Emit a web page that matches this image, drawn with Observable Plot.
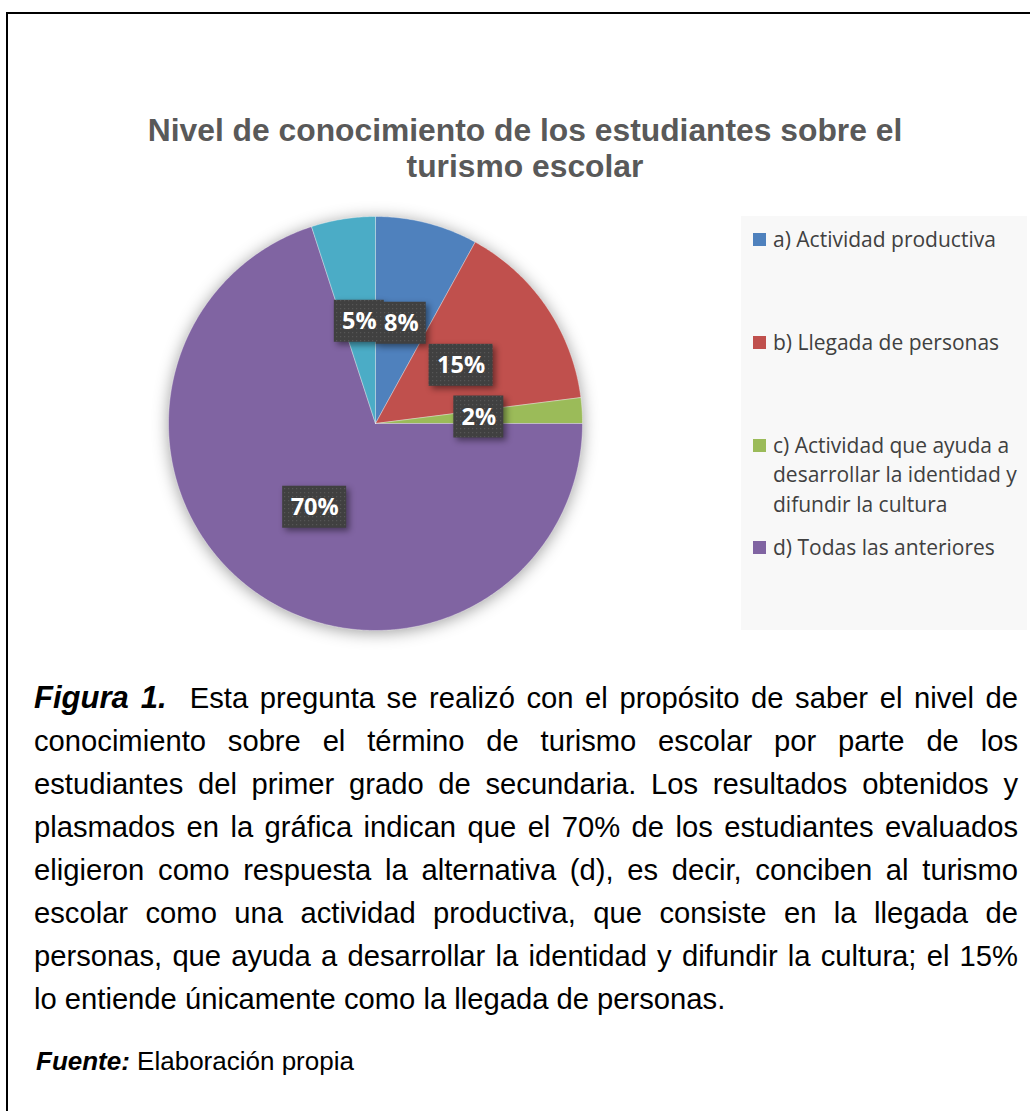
<!DOCTYPE html>
<html><head><meta charset="utf-8">
<script src="https://cdn.jsdelivr.net/npm/d3@7"></script>
<script src="https://cdn.jsdelivr.net/npm/@observablehq/plot@0.6"></script>
<style>
html,body{margin:0;padding:0;background:#fff;}
#page{position:relative;width:1030px;height:1111px;overflow:hidden;font-family:"Liberation Sans",Arial,sans-serif;}
#frame{position:absolute;left:6px;top:12px;width:1100px;height:1200px;border-top:2px solid #000;border-left:2px solid #000;}
#title{position:absolute;left:20px;width:1010px;top:112px;text-align:center;font-weight:bold;font-size:31.8px;line-height:36px;color:#595959;}
#chart{position:absolute;left:135px;top:183px;width:480px;height:480px;}
#legend{position:absolute;left:741px;top:216px;width:286px;height:414px;background:#f8f8f8;}
.lg{position:absolute;left:32px;width:250px;font-family:"Open Sans",sans-serif;font-size:21px;line-height:29.5px;color:#404040;}
.sw{position:absolute;left:-20px;top:8px;width:13px;height:13px;}
#caption{position:absolute;left:34px;width:984px;top:676px;font-size:29.2px;line-height:43px;color:#000;}
.ln{text-align:justify;text-align-last:justify;}
.ln.last{text-align:left;text-align-last:left;}
.fig{font-weight:bold;font-style:italic;font-size:31px;}
#fuente{position:absolute;left:36px;top:1046px;font-size:26px;line-height:30px;color:#000;}
#fuente b{font-style:italic;}
</style>
</head><body>
<svg width="0" height="0" style="position:absolute">
  <defs>
    <pattern id="dots" width="4" height="4" patternUnits="userSpaceOnUse">
      <rect width="4" height="4" fill="#404040"></rect>
      <rect x="1" y="1" width="1.2" height="1.2" fill="#565656"></rect>
    </pattern>
  </defs>
</svg>
<div id="page">
  <div id="frame"></div>
  <div id="title">Nivel de conocimiento de los estudiantes sobre el<br>turismo escolar</div>
  <div id="chart"></div>
  <div id="legend"></div>
  <div id="caption">
    <div class="ln"><span class="fig">Figura 1.</span>&nbsp; Esta pregunta se realizó con el propósito de saber el nivel de</div>
    <div class="ln">conocimiento sobre el término de turismo escolar por parte de los</div>
    <div class="ln">estudiantes del primer grado de secundaria. Los resultados obtenidos y</div>
    <div class="ln">plasmados en la gráfica indican que el 70% de los estudiantes evaluados</div>
    <div class="ln">eligieron como respuesta la alternativa (d), es decir, conciben al turismo</div>
    <div class="ln">escolar como una actividad productiva, que consiste en la llegada de</div>
    <div class="ln">personas, que ayuda a desarrollar la identidad y difundir la cultura; el 15%</div>
    <div class="ln last">lo entiende únicamente como la llegada de personas.</div>
  </div>
  <div id="fuente"><b>Fuente:</b> Elaboración propia</div>
</div>
<script>
// ---- data ----
const categories = [
  "a) Actividad productiva",
  "b) Llegada de personas",
  "c) Actividad que ayuda a desarrollar la identidad y difundir la cultura",
  "d) Todas las anteriores",
  "e)"
];
const values = [8, 15, 2, 70, 5];
const valueLabels = ["8%", "15%", "2%", "70%", "5%"];
const colors = ["#4F81BD", "#C0504D", "#9BBB59", "#8064A2", "#4BACC6"];
const shownInLegend = [true, true, true, true, false];

// ---- geometry in data units (radius = 1) ----
const R = 207;              // pixel radius
const half = 240;           // half of svg size
const k = half / R;
const pie = d3.pie().sort(null).value(d => d)(values);
const slices = [];
pie.forEach((p, i) => {
  const n = Math.max(2, Math.ceil((p.endAngle - p.startAngle) / 0.01));
  slices.push({cat: categories[i], x: 0, y: 0});
  for (let j = 0; j <= n; j++) {
    const t = p.startAngle + (p.endAngle - p.startAngle) * j / n;
    slices.push({cat: categories[i], x: Math.sin(t), y: Math.cos(t)});
  }
  slices.push({cat: categories[i], x: 0, y: 0});
});
const labelData = pie.map((p, i) => {
  const a = (p.startAngle + p.endAngle) / 2;
  const w = (valueLabels[i].length > 2 ? 64 : 50) / R;
  const h = 42 / R;
  return {cat: categories[i], label: valueLabels[i], x: 0.5 * Math.sin(a), y: 0.5 * Math.cos(a), w, h};
});

const svg = Plot.plot({
  width: 480, height: 480, margin: 0,
  style: {background: "transparent", overflow: "visible"},
  x: {domain: [-k, k], axis: null},
  y: {domain: [-k, k], axis: null},
  color: {domain: categories, range: colors},
  marks: [
    Plot.line(slices, {x: "x", y: "y", z: "cat", fill: "cat", stroke: "white", strokeWidth: 0.7, strokeOpacity: 0.5, curve: "linear"}),
    Plot.rect(labelData, {x1: d => d.x - d.w / 2, x2: d => d.x + d.w / 2, y1: d => d.y - d.h / 2, y2: d => d.y + d.h / 2, fill: "url(#dots)"}),
    Plot.text(labelData, {x: "x", y: "y", text: "label", fill: "white", fontSize: 23.5, fontWeight: "bold", fontFamily: "Open Sans"})
  ]
});
document.getElementById("chart").appendChild(svg);
const gLine = svg.querySelector('g[aria-label="line"]');
if (gLine) gLine.style.filter = "drop-shadow(0px 2px 8px rgba(0,0,0,0.38))";
const gRect = svg.querySelector('g[aria-label="rect"]');
if (gRect) gRect.style.filter = "drop-shadow(3px 3px 3px rgba(0,0,0,0.45))";

// ---- legend ----
const legend = document.getElementById("legend");
let idx = 0;
categories.forEach((c, i) => {
  if (!shownInLegend[i]) return;
  const e = document.createElement("div");
  e.className = "lg";
  e.style.top = (9.25 + idx * 102.7) + "px";
  const sw = document.createElement("div");
  sw.className = "sw";
  sw.style.background = colors[i];
  e.appendChild(sw);
  e.appendChild(document.createTextNode(c));
  legend.appendChild(e);
  idx++;
});
</script>
</body></html>
